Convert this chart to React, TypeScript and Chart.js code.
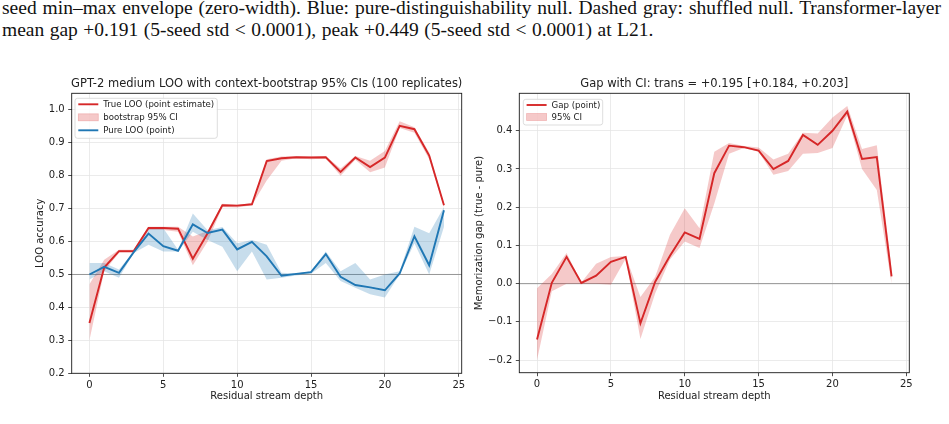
import React, { useEffect, useRef } from "react";
import { Chart, registerables } from "chart.js";
Chart.register(...registerables);

// ---------------- data ----------------
const depth = [0, 1, 2, 3, 4, 5, 6, 7, 8, 9, 10, 11, 12, 13, 14, 15, 16, 17, 18, 19, 20, 21, 22, 23, 24];

const trueLoo = [0.353, 0.521, 0.571, 0.571, 0.641, 0.641, 0.639, 0.548, 0.625, 0.71, 0.709, 0.713, 0.844, 0.853, 0.856, 0.855, 0.856, 0.811, 0.855, 0.826, 0.855, 0.951, 0.941, 0.861, 0.71];
const trueLo = [0.3, 0.51, 0.565, 0.565, 0.635, 0.635, 0.63, 0.528, 0.6, 0.705, 0.703, 0.71, 0.785, 0.845, 0.853, 0.85, 0.852, 0.8, 0.848, 0.81, 0.825, 0.945, 0.93, 0.85, 0.705];
const trueHi = [0.47, 0.545, 0.575, 0.575, 0.645, 0.645, 0.645, 0.615, 0.632, 0.715, 0.712, 0.716, 0.85, 0.858, 0.859, 0.858, 0.859, 0.822, 0.86, 0.845, 0.875, 0.965, 0.947, 0.87, 0.715];

const pureLoo = [0.5, 0.523, 0.505, 0.568, 0.624, 0.586, 0.572, 0.652, 0.626, 0.636, 0.576, 0.599, 0.555, 0.496, 0.502, 0.507, 0.562, 0.493, 0.468, 0.461, 0.452, 0.503, 0.616, 0.528, 0.695];
const pureLo = [0.485, 0.51, 0.49, 0.565, 0.59, 0.57, 0.57, 0.63, 0.605, 0.584, 0.51, 0.57, 0.485, 0.49, 0.497, 0.502, 0.535, 0.48, 0.46, 0.44, 0.43, 0.5, 0.595, 0.5, 0.645];
const pureHi = [0.535, 0.535, 0.515, 0.57, 0.64, 0.64, 0.575, 0.685, 0.634, 0.644, 0.595, 0.605, 0.59, 0.505, 0.503, 0.51, 0.57, 0.51, 0.535, 0.485, 0.5, 0.51, 0.645, 0.625, 0.705];

const gap = [-0.146, 0.002, 0.07, 0.002, 0.021, 0.057, 0.07, -0.104, 0.005, 0.073, 0.134, 0.117, 0.289, 0.361, 0.357, 0.348, 0.3, 0.321, 0.389, 0.363, 0.4, 0.45, 0.326, 0.331, 0.019];
const gapLo = [-0.2, -0.02, 0.0, 0.0, 0.0, -0.003, 0.065, -0.145, -0.025, 0.063, 0.11, 0.093, 0.21, 0.34, 0.355, 0.345, 0.285, 0.295, 0.34, 0.342, 0.355, 0.44, 0.3, 0.245, 0.0];
const gapHi = [-0.012, 0.025, 0.08, 0.003, 0.052, 0.07, 0.072, -0.035, 0.018, 0.128, 0.197, 0.145, 0.345, 0.368, 0.36, 0.356, 0.325, 0.34, 0.395, 0.393, 0.435, 0.465, 0.352, 0.362, 0.04];

const xTicks = [0, 5, 10, 15, 20, 25];
const leftYTicks = [0.2, 0.3, 0.4, 0.5, 0.6, 0.7, 0.8, 0.9, 1.0];
const rightYTicks = [-0.2, -0.1, 0.0, 0.1, 0.2, 0.3, 0.4];

const captionLine1 =
  "seed min\u2013max envelope (zero-width). Blue: pure-distinguishability null. Dashed gray: shuffled null. Transformer-layer";
const captionLine2 = "mean gap +0.191 (5-seed std < 0.0001), peak +0.449 (5-seed std < 0.0001) at L21.";

// ---------------- styles ----------------
const RED = "#d62728";
const BLUE = "#1f77b4";
const RED_BAND = "rgba(214,39,40,0.25)";
const BLUE_BAND = "rgba(31,119,180,0.25)";
const GRID = "#e6e6e6";
const INK = "#222222";
const FONT = "'DejaVu Sans', sans-serif";

type LegendItem = { kind: "line" | "patch"; color: string; label: string };

type Spec = {
  width: number;
  height: number;
  area: { left: number; top: number; right: number; bottom: number };
  title: string;
  yTitle: string;
  yTitlePad: number;
  yMin: number;
  yMax: number;
  yTicks: number[];
  hline: number;
  legend: LegendItem[];
  legendBox: { dx: number; dy: number; w: number; h: number; rows: number[] };
  datasets: any[];
};

const pts = (arr: number[]) => depth.map((x, i) => ({ x, y: arr[i] }));

const lineDs = (arr: number[], color: string, order: number) => ({
  data: pts(arr),
  borderColor: color,
  borderWidth: 1.9,
  pointRadius: 0,
  fill: false,
  tension: 0,
  order,
});
const lowDs = (arr: number[], order: number) => ({
  data: pts(arr),
  borderColor: "rgba(0,0,0,0)",
  borderWidth: 0,
  pointRadius: 0,
  fill: false,
  order,
});
const highDs = (arr: number[], target: number, color: string, order: number) => ({
  data: pts(arr),
  borderColor: "rgba(0,0,0,0)",
  borderWidth: 0,
  pointRadius: 0,
  fill: { target },
  backgroundColor: color,
  order,
});

const fmt = (v: number) => (Math.abs(v) < 1e-9 ? "0.0" : v.toFixed(1).replace("-", "\u2212"));

function decor(spec: Spec) {
  return {
    id: "decor",
    beforeDatasetsDraw(chart: any) {
      const { ctx, chartArea: a, scales } = chart;
      const y = scales.y.getPixelForValue(spec.hline);
      ctx.save();
      ctx.strokeStyle = "rgba(128,128,128,0.8)";
      ctx.lineWidth = 1;
      ctx.beginPath();
      ctx.moveTo(a.left, y);
      ctx.lineTo(a.right, y);
      ctx.stroke();
      ctx.restore();
    },
    afterDraw(chart: any) {
      const { ctx, chartArea: a } = chart;
      ctx.save();
      // frame
      ctx.strokeStyle = "#1a1a1a";
      ctx.lineWidth = 0.9;
      ctx.strokeRect(a.left, a.top, a.right - a.left, a.bottom - a.top);
      // title
      ctx.fillStyle = INK;
      ctx.font = `11.5px ${FONT}`;
      ctx.textAlign = "center";
      ctx.textBaseline = "alphabetic";
      ctx.fillText(spec.title, (a.left + a.right) / 2, a.top - 6);
      // legend
      const lb = spec.legendBox;
      const bx = a.left + lb.dx;
      const by = a.top + lb.dy;
      ctx.beginPath();
      const r = 2.5;
      ctx.moveTo(bx + r, by);
      ctx.lineTo(bx + lb.w - r, by);
      ctx.arcTo(bx + lb.w, by, bx + lb.w, by + r, r);
      ctx.lineTo(bx + lb.w, by + lb.h - r);
      ctx.arcTo(bx + lb.w, by + lb.h, bx + lb.w - r, by + lb.h, r);
      ctx.lineTo(bx + r, by + lb.h);
      ctx.arcTo(bx, by + lb.h, bx, by + lb.h - r, r);
      ctx.lineTo(bx, by + r);
      ctx.arcTo(bx, by, bx + r, by, r);
      ctx.closePath();
      ctx.fillStyle = "rgba(255,255,255,0.85)";
      ctx.fill();
      ctx.strokeStyle = "#d4d4d4";
      ctx.lineWidth = 0.8;
      ctx.stroke();
      ctx.font = `8.6px ${FONT}`;
      ctx.textAlign = "left";
      ctx.textBaseline = "middle";
      spec.legend.forEach((it, i) => {
        const cy = by + lb.rows[i];
        if (it.kind === "line") {
          ctx.strokeStyle = it.color;
          ctx.lineWidth = 1.9;
          ctx.beginPath();
          ctx.moveTo(bx + 3.3, cy);
          ctx.lineTo(bx + 23.3, cy);
          ctx.stroke();
        } else {
          ctx.fillStyle = it.color;
          ctx.fillRect(bx + 3.3, cy - 3.5, 20, 7);
          ctx.strokeStyle = it.color;
          ctx.lineWidth = 0.8;
          ctx.strokeRect(bx + 3.3, cy - 3.5, 20, 7);
        }
        ctx.fillStyle = INK;
        ctx.fillText(it.label, bx + 28.3, cy + 0.5);
      });
      ctx.restore();
    },
  };
}

function buildConfig(spec: Spec): any {
  const font = { family: FONT, size: 10 };
  return {
    type: "line",
    data: { datasets: spec.datasets },
    options: {
      animation: false,
      responsive: false,
      devicePixelRatio: 1,
      layout: {
        padding: { left: 0, top: spec.area.top, right: spec.width - spec.area.right, bottom: 0 },
      },
      plugins: { legend: { display: false }, tooltip: { enabled: false }, title: { display: false } },
      scales: {
        x: {
          type: "linear",
          min: -1.2,
          max: 25.2,
          afterBuildTicks: (s: any) => {
            s.ticks = xTicks.map((v) => ({ value: v }));
          },
          afterFit: (s: any) => {
            s.height = spec.height - spec.area.bottom;
          },
          ticks: { font, color: INK, padding: 2.5, maxRotation: 0, autoSkip: false, callback: (v: any) => String(v) },
          grid: { color: GRID, lineWidth: 0.8, tickColor: INK, tickLength: 3.5, tickWidth: 0.8 },
          border: { display: false },
          title: { display: true, text: "Residual stream depth", font, color: INK, padding: { top: 0, bottom: 7.3 } },
        },
        y: {
          type: "linear",
          min: spec.yMin,
          max: spec.yMax,
          afterBuildTicks: (s: any) => {
            s.ticks = spec.yTicks.map((v) => ({ value: v }));
          },
          afterFit: (s: any) => {
            s.width = spec.area.left;
          },
          ticks: { font, color: INK, padding: 3.5, autoSkip: false, callback: (v: any) => fmt(Number(v)) },
          grid: { color: GRID, lineWidth: 0.8, tickColor: INK, tickLength: 3.5, tickWidth: 0.8 },
          border: { display: false },
          title: { display: true, text: spec.yTitle, font, color: INK, padding: { top: spec.yTitlePad, bottom: 0 } },
        },
      },
    },
    plugins: [decor(spec)],
  };
}

const leftSpec: Spec = {
  width: 450,
  height: 340,
  area: { left: 51.7, top: 23.3, right: 441.7, bottom: 303.3 },
  title: "GPT-2 medium LOO with context-bootstrap 95% CIs (100 replicates)",
  yTitle: "LOO accuracy",
  yTitlePad: 14,
  yMin: 0.2,
  yMax: 1.05,
  yTicks: leftYTicks,
  hline: 0.5,
  legend: [
    { kind: "line", color: RED, label: "True LOO (point estimate)" },
    { kind: "patch", color: RED_BAND, label: "bootstrap 95% CI" },
    { kind: "line", color: BLUE, label: "Pure LOO (point)" },
  ],
  legendBox: { dx: 3.3, dy: 5, w: 142.3, h: 40, rows: [6, 19, 32] },
  datasets: [
    lineDs(trueLoo, RED, 1),
    lineDs(pureLoo, BLUE, 0),
    lowDs(trueLo, 5),
    highDs(trueHi, 2, RED_BAND, 4),
    lowDs(pureLo, 3),
    highDs(pureHi, 4, BLUE_BAND, 2),
  ],
};

const rightSpec: Spec = {
  width: 479,
  height: 340,
  area: { left: 49.3, top: 23.3, right: 439.3, bottom: 302.7 },
  title: "Gap with CI: trans = +0.195 [+0.184, +0.203]",
  yTitle: "Memorization gap (true - pure)",
  yTitlePad: 3,
  yMin: -0.233,
  yMax: 0.498,
  yTicks: rightYTicks,
  hline: 0,
  legend: [
    { kind: "line", color: RED, label: "Gap (point)" },
    { kind: "patch", color: RED_BAND, label: "95% CI" },
  ],
  legendBox: { dx: 4, dy: 6, w: 79.4, h: 25.7, rows: [5.7, 17.7] },
  datasets: [lineDs(gap, RED, 0), lowDs(gapLo, 3), highDs(gapHi, 1, RED_BAND, 2)],
};

function ChartCanvas({ spec, left, top }: { spec: Spec; left: number; top: number }) {
  const ref = useRef<HTMLCanvasElement>(null);
  useEffect(() => {
    const chart = new Chart(ref.current as HTMLCanvasElement, buildConfig(spec));
    return () => chart.destroy();
  }, [spec]);
  return (
    <canvas
      ref={ref}
      width={spec.width}
      height={spec.height}
      style={{ position: "absolute", left, top, width: spec.width, height: spec.height }}
    />
  );
}

export default function App() {
  const cap: React.CSSProperties = {
    position: "absolute",
    left: 2,
    fontFamily: "'Liberation Serif', 'Times New Roman', serif",
    fontSize: 19.5,
    lineHeight: "22px",
    color: "#111",
    whiteSpace: "nowrap",
  };
  return (
    <div
      style={{
        position: "fixed",
        left: 0,
        top: 0,
        width: 949,
        height: 424,
        overflow: "hidden",
        background: "#fff",
      }}
    >
      <div style={{ ...cap, top: -2.6, width: 939, textAlign: "justify", textAlignLast: "justify", whiteSpace: "normal" }}>
        {captionLine1}
      </div>
      <div style={{ ...cap, top: 19.4, wordSpacing: 0.6 }}>{captionLine2}</div>
      <ChartCanvas spec={leftSpec} left={20} top={70} />
      <ChartCanvas spec={rightSpec} left={470} top={70} />
    </div>
  );
}
